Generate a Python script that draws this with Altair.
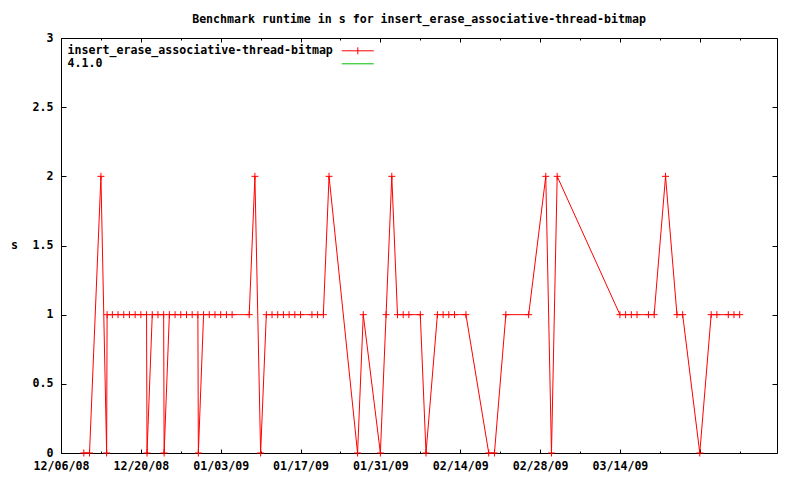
import altair as alt
import pandas as pd

TITLE = "Benchmark runtime in s for insert_erase_associative-thread-bitmap"
SERIES = "insert_erase_associative-thread-bitmap"
OTHER = "4.1.0"

DATES = [
    "2008-12-10", "2008-12-11", "2008-12-13", "2008-12-14T00:00", "2008-12-14T02:00",
    "2008-12-15", "2008-12-16", "2008-12-17", "2008-12-18", "2008-12-19", "2008-12-20",
    "2008-12-21T00:00", "2008-12-21T02:00", "2008-12-22", "2008-12-23",
    "2008-12-24T00:00", "2008-12-24T02:00", "2008-12-25", "2008-12-26", "2008-12-27",
    "2008-12-28", "2008-12-29", "2008-12-30T00:00", "2008-12-30T02:00", "2008-12-31",
    "2009-01-01", "2009-01-02", "2009-01-03", "2009-01-04", "2009-01-05",
    "2009-01-08", "2009-01-09", "2009-01-10", "2009-01-11", "2009-01-12", "2009-01-13",
    "2009-01-14", "2009-01-15", "2009-01-16", "2009-01-17", "2009-01-19", "2009-01-20",
    "2009-01-21", "2009-01-22", "2009-01-27", "2009-01-28", "2009-01-31", "2009-02-01",
    "2009-02-02", "2009-02-03", "2009-02-04", "2009-02-05", "2009-02-07", "2009-02-08",
    "2009-02-10", "2009-02-11", "2009-02-12", "2009-02-13", "2009-02-15", "2009-02-19",
    "2009-02-20", "2009-02-22", "2009-02-26", "2009-03-01", "2009-03-02", "2009-03-03",
    "2009-03-14", "2009-03-15", "2009-03-16", "2009-03-17", "2009-03-19", "2009-03-20",
    "2009-03-22", "2009-03-24", "2009-03-25", "2009-03-28", "2009-03-30", "2009-03-31",
    "2009-04-02", "2009-04-03", "2009-04-04",
]
VALUES = [
    0, 0, 2, 0, 1,
    1, 1, 1, 1, 1, 1,
    1, 0, 1, 1,
    1, 0, 1, 1, 1,
    1, 1, 1, 0, 1,
    1, 1, 1, 1, 1,
    1, 2, 0, 1, 1, 1,
    1, 1, 1, 1, 1, 1,
    1, 2, 0, 1, 0, 1,
    2, 1, 1, 1, 1, 0,
    1, 1, 1, 1, 1, 0,
    0, 1, 1, 2, 0, 2,
    1, 1, 1, 1, 1, 1,
    2, 1, 1, 0, 1, 1,
    1, 1, 1,
]

LABEL_DATES = ["2008-12-06", "2008-12-20", "2009-01-03", "2009-01-17",
               "2009-01-31", "2009-02-14", "2009-02-28", "2009-03-14"]
MAJOR_TICK_DATES = LABEL_DATES + ["2009-03-28"]
MINOR_TICK_DATES = ["2008-12-13", "2008-12-27", "2009-01-10", "2009-01-24",
                    "2009-02-07", "2009-02-21", "2009-03-07", "2009-03-21", "2009-04-04"]
Y_TICKS = [0, 0.5, 1, 1.5, 2, 2.5, 3]
X_DOMAIN = ["2008-12-06", "2009-04-10T13:00"]

FONT = "DejaVu Sans Mono"
FS = 11.6
W, H = 716, 415


def dt(s):
    t = pd.Timestamp(s)
    return alt.DateTime(year=t.year, month=t.month, date=t.day,
                        hours=t.hour, minutes=t.minute)


df = pd.DataFrame({"date": [pd.Timestamp(d) for d in DATES], "value": VALUES})

xscale = alt.Scale(domain=[dt(X_DOMAIN[0]), dt(X_DOMAIN[1])])
yscale = alt.Scale(domain=[0, 3], nice=False, zero=True)


def tick_axis(orient, values, size, offset):
    return alt.Axis(orient=orient, values=values, tickSize=size, ticks=True,
                    tickColor="black", tickWidth=1, labels=False, domain=False,
                    grid=False, title="", offset=offset)


x_label_axis = alt.Axis(orient="bottom", values=[dt(d) for d in LABEL_DATES],
                        format="%m/%d/%y", ticks=False, tickSize=0, domain=False,
                        grid=False, title="", labelPadding=7, labelBaseline="top",
                        labelFlush=False, labelOverlap=False, labelBound=False)
y_label_axis = alt.Axis(orient="left", values=Y_TICKS, format="~g", ticks=False,
                        tickSize=0, domain=False, grid=False, title="s",
                        titleAngle=0, titleX=-47, titleY=H / 2,
                        titleAlign="center", titleBaseline="middle",
                        labelPadding=8, labelOverlap=False)

base = alt.Chart(df)

# invisible layers that only carry the inward-pointing tick marks
ticks_a = base.mark_point(opacity=0).encode(
    x=alt.X("date:T", scale=xscale,
            axis=tick_axis("top", [dt(d) for d in MAJOR_TICK_DATES], 4, -H)),
    y=alt.Y("value:Q", scale=yscale, axis=tick_axis("right", Y_TICKS, 5, -W)),
)
ticks_b = base.mark_point(opacity=0).encode(
    x=alt.X("date:T", scale=xscale,
            axis=tick_axis("bottom", [dt(d) for d in MAJOR_TICK_DATES], 4, -H)),
    y=alt.Y("value:Q", scale=yscale, axis=tick_axis("left", Y_TICKS, 5, -W)),
)
ticks_c = base.mark_point(opacity=0).encode(
    x=alt.X("date:T", scale=xscale,
            axis=tick_axis("top", [dt(d) for d in MINOR_TICK_DATES], 2, -H)),
    y=alt.Y("value:Q", scale=yscale, axis=None),
)
ticks_d = base.mark_point(opacity=0).encode(
    x=alt.X("date:T", scale=xscale,
            axis=tick_axis("bottom", [dt(d) for d in MINOR_TICK_DATES], 2, -H)),
    y=alt.Y("value:Q", scale=yscale, axis=None),
)

line = base.mark_line(color="#ff0000", strokeWidth=1).encode(
    x=alt.X("date:T", scale=xscale, axis=x_label_axis),
    y=alt.Y("value:Q", scale=yscale, axis=y_label_axis),
)

PLUS = "M-1,0L1,0M0,-1L0,1"
points = base.mark_point(shape=PLUS, size=49, filled=False, opacity=1,
                         color="#ff0000", strokeWidth=1).encode(
    x=alt.X("date:T", scale=xscale, axis=None),
    y=alt.Y("value:Q", scale=yscale, axis=None),
)

# legend: sample line drawn to the right of the label (gnuplot key style)
LEG_LINE_PLUS = "M140,0L156,0M148,-1.75L148,1.75"
LEG_LINE = "M140,0L156,0"
leg_df = pd.DataFrame({"series": [SERIES, OTHER]})
legend_props = dict(orient="none", legendX=-5, legendY=7, title=None,
                    symbolSize=16, symbolStrokeWidth=1, symbolOffset=0,
                    labelOffset=0, labelLimit=500, padding=0, rowPadding=0,
                    labelFont=FONT, labelFontSize=FS, labelFontWeight="bold",
                    labelColor="black", labelBaseline="middle")
legend_layer = alt.Chart(leg_df).transform_filter("false").mark_point(
    filled=False, opacity=1, size=16, strokeWidth=1).encode(
    color=alt.Color("series:N",
                    scale=alt.Scale(domain=[SERIES, OTHER], range=["#ff0000", "#00c000"]),
                    legend=alt.Legend(**legend_props)),
    shape=alt.Shape("series:N",
                    scale=alt.Scale(domain=[SERIES, OTHER], range=[LEG_LINE_PLUS, LEG_LINE]),
                    legend=alt.Legend(**legend_props)),
)

chart = alt.layer(ticks_a, ticks_b, ticks_c, ticks_d, line, points, legend_layer).resolve_axis(
    x="independent", y="independent"
).properties(
    width=W, height=H,
    title=alt.TitleParams(TITLE, anchor="middle", offset=-3, font=FONT, fontSize=FS,
                          fontWeight="bold", color="black", baseline="alphabetic"),
    autosize=alt.AutoSizeParams(type="none"),
    padding={"left": 53, "top": 30, "right": 12, "bottom": 19},
).configure_view(
    stroke="black", strokeWidth=1
).configure_axis(
    labelFont=FONT, labelFontSize=FS, labelFontWeight="bold", labelColor="black",
    titleFont=FONT, titleFontSize=FS, titleFontWeight="bold", titleColor="black",
)

chart.save("out.html", embed_options={"renderer": "svg", "actions": False})
